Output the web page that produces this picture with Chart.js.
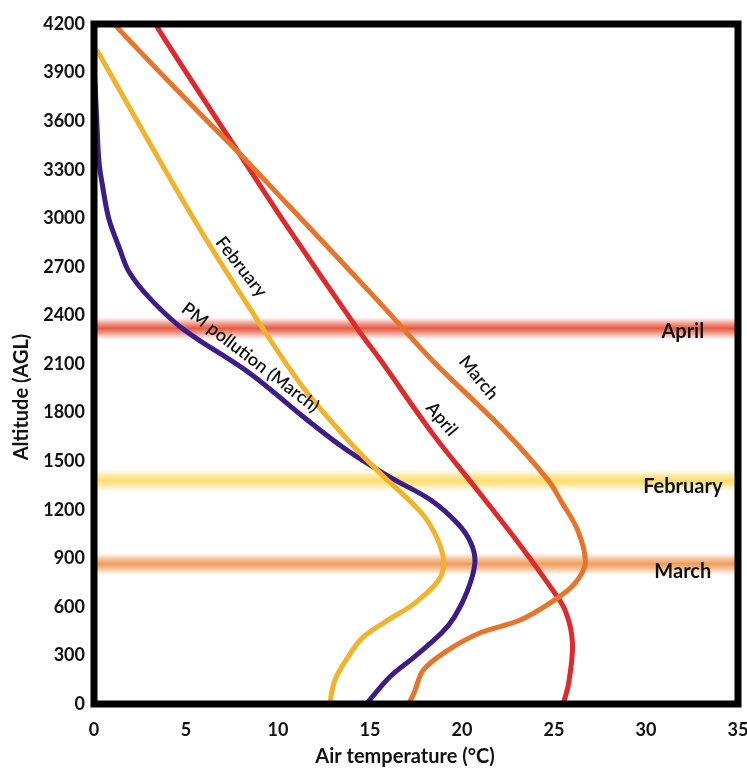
<!DOCTYPE html>
<html>
<head>
<meta charset="utf-8">
<script src="https://cdn.jsdelivr.net/npm/chart.js@4.4.1/dist/chart.umd.min.js"></script>
<style>
  html, body { margin: 0; padding: 0; background: #fff; }
</style>
</head>
<body>
<canvas id="profileChart" width="747" height="769"></canvas>
<script>
// axis ranges
const tempTicks = [0, 5, 10, 15, 20, 25, 30, 35];
const altitudeTicks = [0, 300, 600, 900, 1200, 1500, 1800, 2100, 2400, 2700, 3000, 3300, 3600, 3900, 4200];

// February profile
const febAltitude = [4040, 3000, 2350, 1950, 1630, 1420, 1180, 1010, 870, 760, 620, 520, 410, 290, 150, 0];
const febTemp     = [0.15, 5.4, 9.0, 11.4, 13.8, 15.6, 17.8, 18.7, 19.0, 18.7, 17.4, 16.0, 14.6, 13.8, 13.1, 12.8];

// March profile
const marAltitude = [4260, 4150, 3630, 3390, 3100, 2980, 2470, 2120, 1700, 1380, 1250, 1070, 870, 740, 640, 520, 440, 330, 210, 70, 0];
const marTemp     = [0.7, 1.5, 5.9, 8.0, 10.4, 11.4, 15.6, 18.4, 22.2, 24.7, 25.4, 26.3, 26.7, 26.1, 25.0, 23.2, 21.0, 19.2, 17.9, 17.4, 17.1];

// April profile
const aprAltitude = [4260, 4150, 3400, 3000, 2320, 2120, 1670, 1340, 990, 740, 580, 380, 130, 0];
const aprTemp     = [3.1, 3.6, 7.9, 10.2, 14.3, 15.6, 18.4, 20.7, 23.1, 24.7, 25.6, 26.0, 25.8, 25.5];

// PM pollution (March) profile
const pmAltitude = [4000, 3840, 3600, 3350, 3210, 3000, 2810, 2670, 2510, 2320, 2040, 1790, 1580, 1400, 1260, 1110, 990, 870, 700, 540, 440, 290, 170, 0];
const pmTemp     = [-0.05, 0.05, 0.15, 0.27, 0.45, 0.8, 1.4, 1.9, 3.0, 4.8, 8.5, 11.2, 13.6, 16.1, 18.3, 19.8, 20.5, 20.7, 20.3, 19.6, 18.9, 17.4, 16.1, 14.8];

// highlighted layers
const bandNames    = ["April", "February", "March"];
const bandAltitude = [2320, 1380, 865];

const bandColors = ["228,82,58", "250,218,100", "238,150,78"];
const bandLabelOffset = [3, 6, 8];

const curveLabels = [
    { text: "February", t: 8.0, alt: 2700, angle: 52 },
    { text: "PM pollution (March)", t: 8.5, alt: 2140, angle: 37.5 },
    { text: "April", t: 18.9, alt: 1760, angle: 50 },
    { text: "March", t: 20.9, alt: 2015, angle: 51 }
];

function toPoints(temps, alts) {
    return alts.map(function (a, i) { return { x: temps[i], y: a }; });
}

const fontFamily = "Lato, 'Open Sans', sans-serif";

const bandPlugin = {
    id: "bands",
    beforeDatasetsDraw(chart) {
        const ctx = chart.ctx;
        const area = chart.chartArea;
        const yScale = chart.scales.y;
        ctx.save();
        bandAltitude.forEach(function (alt, i) {
            const y = yScale.getPixelForValue(alt);
            const h = 22;
            const g = ctx.createLinearGradient(0, y - h / 2, 0, y + h / 2);
            const c = bandColors[i];
            g.addColorStop(0, "rgba(" + c + ",0)");
            g.addColorStop(0.3, "rgba(" + c + ",0.6)");
            g.addColorStop(0.5, "rgba(" + c + ",0.95)");
            g.addColorStop(0.7, "rgba(" + c + ",0.6)");
            g.addColorStop(1, "rgba(" + c + ",0)");
            ctx.fillStyle = g;
            ctx.fillRect(area.left, y - h / 2, area.right - area.left, h);
        });
        ctx.restore();
    },
    afterDatasetsDraw(chart) {
        const ctx = chart.ctx;
        const area = chart.chartArea;
        const xScale = chart.scales.x;
        const yScale = chart.scales.y;
        ctx.save();
        ctx.fillStyle = "#111";
        ctx.textAlign = "center";
        ctx.textBaseline = "middle";

        // band labels
        ctx.font = "bold 20px " + fontFamily;
        bandAltitude.forEach(function (alt, i) {
            ctx.fillText(bandNames[i], xScale.getPixelForValue(32), yScale.getPixelForValue(alt) + bandLabelOffset[i]);
        });

        // curve labels
        ctx.font = "600 18px " + fontFamily;
        curveLabels.forEach(function (l) {
            ctx.save();
            ctx.translate(xScale.getPixelForValue(l.t), yScale.getPixelForValue(l.alt));
            ctx.rotate(l.angle * Math.PI / 180);
            ctx.fillText(l.text, 0, 0);
            ctx.restore();
        });

        // frame
        ctx.strokeStyle = "#000";
        ctx.lineWidth = 7;
        ctx.strokeRect(area.left, area.top, area.right - area.left, area.bottom - area.top);

        // axis titles
        ctx.font = "bold 20px " + fontFamily;
        ctx.fillText("Air temperature (°C)", (area.left + area.right) / 2 - 11, area.bottom + 53);
        ctx.save();
        ctx.translate(22, (area.top + area.bottom) / 2 + 33);
        ctx.rotate(-Math.PI / 2);
        ctx.fillText("Altitude (AGL)", 0, 0);
        ctx.restore();
        ctx.restore();
    }
};

const lineStyle = { showLine: true, pointRadius: 0, borderWidth: 5, tension: 0.35, fill: false };
const tickFont = { family: fontFamily, size: 18, weight: "bold" };

new Chart(document.getElementById("profileChart"), {
    type: "scatter",
    data: {
        datasets: [
            Object.assign({ label: "February", data: toPoints(febTemp, febAltitude), borderColor: "#F2B32C" }, lineStyle),
            Object.assign({ label: "PM pollution (March)", data: toPoints(pmTemp, pmAltitude), borderColor: "#3C1C86" }, lineStyle),
            Object.assign({ label: "March", data: toPoints(marTemp, marAltitude), borderColor: "#E8732A" }, lineStyle),
            Object.assign({ label: "April", data: toPoints(aprTemp, aprAltitude), borderColor: "#E0292B" }, lineStyle)
        ]
    },
    options: {
        responsive: false,
        animation: false,
        layout: { padding: { top: 24, right: 9, left: 0, bottom: 0 } },
        plugins: {
            legend: { display: false },
            tooltip: { enabled: false }
        },
        scales: {
            x: {
                type: "linear",
                min: tempTicks[0],
                max: tempTicks[tempTicks.length - 1],
                afterBuildTicks: function (scale) { scale.ticks = tempTicks.map(function (v) { return { value: v }; }); },
                afterFit: function (scale) { scale.height = 65; scale.paddingLeft = 0; scale.paddingRight = 0; },
                grid: { display: false, drawTicks: false },
                border: { display: false },
                ticks: { padding: 15, color: "#111", font: tickFont, callback: function (v) { return String(v); } }
            },
            y: {
                type: "linear",
                min: altitudeTicks[0],
                max: altitudeTicks[altitudeTicks.length - 1],
                afterBuildTicks: function (scale) { scale.ticks = altitudeTicks.map(function (v) { return { value: v }; }); },
                afterFit: function (scale) { scale.width = 94; scale.paddingTop = 0; scale.paddingBottom = 0; },
                grid: { display: false, drawTicks: false },
                border: { display: false },
                ticks: { padding: 9, color: "#111", font: tickFont, callback: function (v) { return String(v); } }
            }
        }
    },
    plugins: [bandPlugin]
});
</script>
</body>
</html>
